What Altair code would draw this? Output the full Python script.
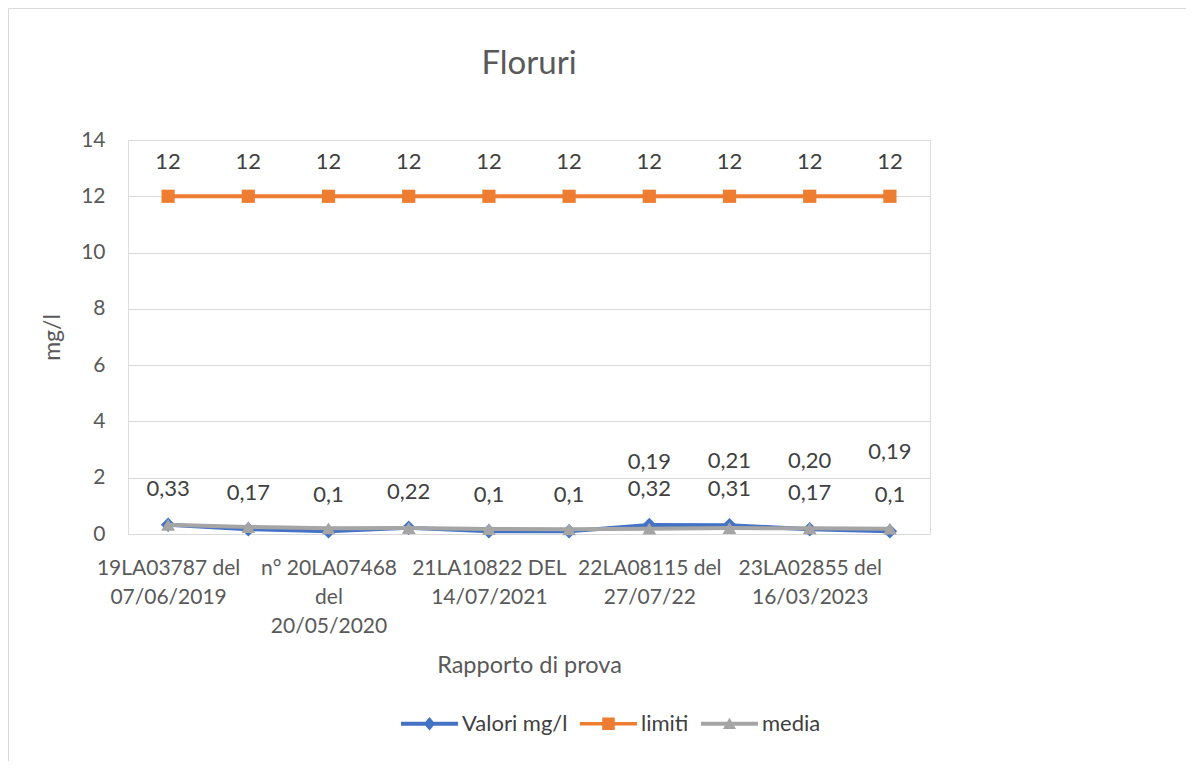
import json
import altair as alt
import pandas as pd

# ---------------- data ----------------
chart_title = "Floruri"
series = ["Valori mg/l", "limiti", "media"]
colors = ["#4472C4", "#ED7D31", "#A5A5A5"]
points = [1, 2, 3, 4, 5, 6, 7, 8, 9, 10]
valori = [0.33, 0.17, 0.1, 0.22, 0.1, 0.1, 0.32, 0.31, 0.17, 0.1]
limiti = [12, 12, 12, 12, 12, 12, 12, 12, 12, 12]
media = [0.33, 0.25, 0.20, 0.21, 0.18, 0.17, 0.19, 0.21, 0.20, 0.19]
media_labelled_points = [7, 8, 9, 10]
tick_points = [1, 3, 5, 7, 9]
tick_labels = [
    ["19LA03787 del", "07/06/2019"],
    ["n° 20LA07468", "del", "20/05/2020"],
    ["21LA10822 DEL", "14/07/2021"],
    ["22LA08115 del", "27/07/22"],
    ["23LA02855 del", "16/03/2023"],
]
y_ticks = [0, 2, 4, 6, 8, 10, 12, 14]
x_title = "Rapporto di prova"
y_title = "mg/l"

rows = []
for name, vals in zip(series, [valori, limiti, media]):
    for p, v in zip(points, vals):
        rows.append({"idx": p, "serie": name, "value": v})
df = pd.DataFrame(rows)

# ---------------- styling ----------------
FONT = "Lato"
TXT = "#595959"
LBL = "#404040"
GRID = "#D9D9D9"

label_expr = "''"
for p, lab in reversed(list(zip(tick_points, tick_labels))):
    label_expr = f"datum.value == {p} ? {json.dumps(lab, ensure_ascii=False)} : ({label_expr})"

x_enc = alt.X(
    "idx:Q",
    scale=alt.Scale(domain=[0.5, 10.5], nice=False, zero=False),
    axis=alt.Axis(
        values=tick_points, labelExpr=label_expr, title=x_title,
        grid=False, ticks=False, domain=True, domainColor=GRID, domainWidth=1,
        labelFont=FONT, labelFontSize=21, labelColor=TXT, labelPadding=23,
        labelBaseline="top", labelLineHeight=29, labelFlush=False, labelOverlap=False,
        titleFont=FONT, titleFontSize=23.5, titleColor=TXT, titleFontWeight="normal",
        titleY=138, titleBaseline="alphabetic",
    ),
)
y_enc = alt.Y(
    "value:Q",
    scale=alt.Scale(domain=[0, 14], nice=False, zero=True),
    axis=alt.Axis(
        values=y_ticks, format="d", title=y_title,
        grid=True, gridColor=GRID, gridWidth=1, ticks=False, domain=False,
        labelFont=FONT, labelFontSize=21, labelColor=TXT, labelPadding=23,
        titleFont=FONT, titleFontSize=23, titleColor=TXT, titleFontWeight="normal",
        titleAngle=-90, titleX=-69, titleY=197, titleBaseline="alphabetic", titleAlign="center",
    ),
)

base = alt.Chart(df)

layers = []
markers = [("diamond", 210), ("square", 175), ("triangle-up", 190)]
for name, col, (shp, sz) in zip(series, colors, markers):
    sub = base.transform_filter(alt.datum.serie == name)
    layers.append(sub.mark_line(color=col, strokeWidth=4).encode(x=x_enc, y=y_enc))
    layers.append(sub.mark_point(shape=shp, size=sz, filled=True, color=col, opacity=1).encode(x=x_enc, y=y_enc))

# data labels
lab_common = dict(font=FONT, fontSize=22, color=LBL, baseline="middle", align="center")
layers.append(
    base.transform_filter(alt.datum.serie == series[0])
    .transform_calculate(txt="replace(toString(datum.value), '.', ',')")
    .mark_text(dy=-36, **lab_common).encode(x=x_enc, y=y_enc, text="txt:N")
)
layers.append(
    base.transform_filter(alt.datum.serie == series[1])
    .transform_calculate(txt="replace(toString(datum.value), '.', ',')")
    .mark_text(dy=-34, **lab_common).encode(x=x_enc, y=y_enc, text="txt:N")
)
media_lab = (
    base.transform_filter(alt.datum.serie == series[2])
    .transform_filter(alt.FieldOneOfPredicate(field="idx", oneOf=media_labelled_points))
    .transform_calculate(txt="replace(format(datum.value, '.2f'), '.', ',')")
)
layers.append(media_lab.transform_filter(alt.datum.idx < 10).mark_text(dy=-67, **lab_common).encode(x=x_enc, y=y_enc, text="txt:N"))
layers.append(media_lab.transform_filter(alt.datum.idx == 10).mark_text(dy=-77, **lab_common).encode(x=x_enc, y=y_enc, text="txt:N"))

# legend (line + marker symbols)
legend_paths = [
    "M-1,-0.07H1V0.07H-1Z M0,-0.24L0.2,0L0,0.24L-0.2,0Z",
    "M-1,-0.065H1V0.065H-1Z M-0.22,-0.22H0.22V0.22H-0.22Z",
    "M-1,-0.07H1V0.07H-1Z M0,-0.21L0.23,0.18H-0.23Z",
]
leg = alt.Legend(
    title=None, orient="none", legendX=273, legendY=555, direction="horizontal",
    symbolSize=3249, symbolStrokeWidth=0, symbolOpacity=1, labelFont=FONT, labelFontSize=22,
    labelColor=LBL, labelOffset=4, columnPadding=12, padding=0,
)
layers.append(
    base.transform_filter("false").mark_point(filled=True, opacity=1).encode(
        x=x_enc, y=y_enc,
        color=alt.Color("serie:N", scale=alt.Scale(domain=series, range=colors), legend=leg),
        shape=alt.Shape("serie:N", scale=alt.Scale(domain=series, range=legend_paths), legend=leg),
    )
)

# outer chart frame
frame = alt.Chart(pd.DataFrame({"a": [0]})).mark_rect(
    fill=None, stroke=GRID, strokeWidth=1
).encode(x=alt.value(-119.5), x2=alt.value(1100), y=alt.value(-131.5), y2=alt.value(700))

chart = alt.layer(frame, *layers).properties(
    width=802,
    height=394,
    title=alt.TitleParams(chart_title, font=FONT, fontSize=33, color=TXT, fontWeight="normal",
                          anchor="middle", baseline="alphabetic", offset=-99),
    autosize=alt.AutoSizeParams(type="none"),
    padding={"left": 120, "top": 132, "right": 256, "bottom": 227},
).configure_view(stroke=None).configure(font=FONT)

chart.save("out.html", embed_options={"renderer": "svg", "actions": False})
